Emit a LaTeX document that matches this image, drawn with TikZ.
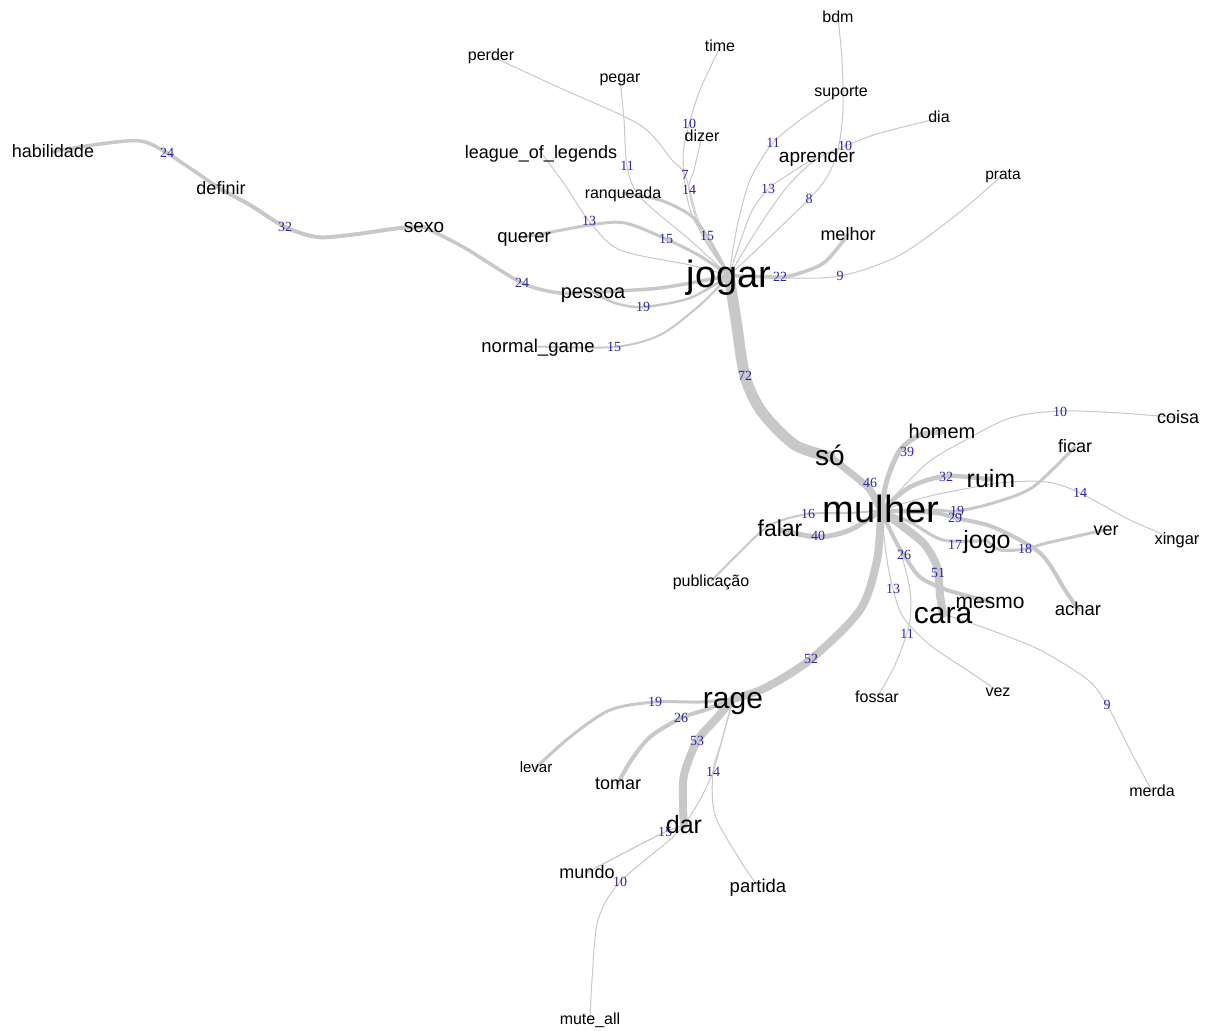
\documentclass[tikz,border=0pt]{standalone}
\usepackage{fontspec}
\setmainfont{Liberation Sans}
\newfontfamily\labfont{Liberation Serif}
\usetikzlibrary{backgrounds}
\definecolor{edgec}{RGB}{200,200,200}
\definecolor{labc}{RGB}{40,40,170}
\begin{document}
\begin{tikzpicture}[x=1pt,y=-1pt,
  wd/.code={\pgfmathsetmacro\wdh{0.6*#1}\pgfkeysalso{inner sep=0pt, text depth=0pt, text height/.expanded=\wdh pt, font=\fontsize{#1}{#1}\selectfont, text=black}},
  edg/.style={draw=edgec, line width=#1, line cap=round, line join=round},
  wl/.style={inner sep=0pt, text=labc, font=\labfont\fontsize{14}{14}\selectfont}]
\useasboundingbox (0,0) rectangle (1214,1030);
% words
\node[wd=18] (habilidade) at (53,151.6) {habilidade};
\node[wd=18] (definir) at (221,189.5) {definir};
\node[wd=19] (sexo) at (424,227) {sexo};
\node[wd=20] (pessoa) at (593,292) {pessoa};
\node[wd=18.5] (querer) at (524,237.4) {querer};
\node[wd=18.5] (normalgame) at (538,346.5) {normal\_game};
\node[wd=18] (league) at (541,152.6) {league\_of\_legends};
\node[wd=16] (ranqueada) at (623,193.2) {ranqueada};
\node[wd=16] (perder) at (491,56.2) {perder};
\node[wd=16] (pegar) at (620,78.2) {pegar};
\node[wd=16] (time) at (720,47.2) {time};
\node[wd=16] (dizer) at (702,136.2) {dizer};
\node[wd=16] (bdm) at (838,18.2) {bdm};
\node[wd=16] (suporte) at (841,92.2) {suporte};
\node[wd=16] (dia) at (939,118.2) {dia};
\node[wd=19] (aprender) at (817,156.3) {aprender};
\node[wd=15.5] (prata) at (1003,174.4) {prata};
\node[wd=18] (melhor) at (848,234.6) {melhor};
\node[wd=38] (jogar) at (729,275.6) {jogar};
\node[wd=28] (so) at (830,456.6) {só};
\node[wd=38] (mulher) at (881,510.6) {mulher};
\node[wd=20] (homem) at (942,432) {homem};
\node[wd=18] (coisa) at (1178,417.6) {coisa};
\node[wd=25] (ruim) at (991,479.5) {ruim};
\node[wd=18] (ficar) at (1075,446.6) {ficar};
\node[wd=16.5] (xingar) at (1177,540) {xingar};
\node[wd=18] (ver) at (1106,529.6) {ver};
\node[wd=25] (jogo) at (987,540.5) {jogo};
\node[wd=18.5] (achar) at (1078,609.5) {achar};
\node[wd=21] (mesmo) at (990,601.7) {mesmo};
\node[wd=30] (cara) at (943,614) {cara};
\node[wd=23] (falar) at (780,530) {falar};
\node[wd=16] (pub) at (711,581.2) {publicação};
\node[wd=16] (fossar) at (877,697.2) {fossar};
\node[wd=16] (vez) at (998,691.2) {vez};
\node[wd=16] (merda) at (1152,791.2) {merda};
\node[wd=30] (rage) at (733,699) {rage};
\node[wd=15] (levar) at (536,767.5) {levar};
\node[wd=18] (tomar) at (618,783.6) {tomar};
\node[wd=25] (dar) at (684,825.5) {dar};
\node[wd=18] (mundo) at (587,872.6) {mundo};
\node[wd=18.5] (partida) at (758,886.5) {partida};
\node[wd=16] (muteall) at (590,1019.2) {mute\_all};
% edges
\begin{scope}[on background layer]
\fill[white] (0,0) rectangle (1214,1030);
\draw[edg=3.5pt] plot[smooth] coordinates {(habilidade.center) (100,144) (140,141) (167,153) (definir.center)};
\draw[edg=4pt] plot[smooth] coordinates {(definir.center) (250,205) (285,227) (317,237) (350,235) (400,228) (sexo.center)};
\draw[edg=3.5pt] plot[smooth] coordinates {(sexo.center) (465,248) (522,283) (560,293) (pessoa.center)};
\draw[edg=3.5pt] plot[smooth] coordinates {(pessoa.center) (660,288) (jogar.center)};
\draw[edg=2.5pt] plot[smooth] coordinates {(pessoa.center) (615,303) (643,307) (690,298) (jogar.center)};
\draw[edg=2pt] plot[smooth] coordinates {(normalgame.center) (614,347) (660,335) (700,305) (jogar.center)};
\draw[edg=3pt] plot[smooth] coordinates {(querer.center) (590,225) (625,223) (666,239) (700,256) (jogar.center)};
\draw[edg=1pt] plot[smooth] coordinates {(league.center) (565,185) (589,221) (620,250) (690,265) (jogar.center)};
\draw[edg=3pt] plot[smooth] coordinates {(ranqueada.center) (660,200) (690,215) (707,236) (jogar.center)};
\draw[edg=1pt] plot[smooth] coordinates {(pegar.center) (624,120) (627,166) (640,197) (690,240) (jogar.center)};
\draw[edg=1pt] plot[smooth] coordinates {(perder.center) (560,88) (640,125) (672,160) (685,175) (700,225) (jogar.center)};
\draw[edg=1pt] plot[smooth] coordinates {(time.center) (700,90) (689,125) (683,160) (692,215) (jogar.center)};
\draw[edg=1pt] plot[smooth] coordinates {(dizer.center) (694,170) (689,190) (702,235) (jogar.center)};
\draw[edg=1pt] plot[smooth] coordinates {(suporte.center) (800,120) (772,144) (750,180) (737,227) (jogar.center)};
\draw[edg=1pt] plot[smooth] coordinates {(bdm.center) (842,60) (843,110) (838,150) (827,177) (809,199) (770,237) (jogar.center)};
\draw[edg=1pt] plot[smooth] coordinates {(dia.center) (880,133) (845,146) (815,160) (787,187) (760,225) (jogar.center)};
\draw[edg=1pt] plot[smooth] coordinates {(aprender.center) (780,180) (768,189) (750,215) (jogar.center)};
\draw[edg=1pt] plot[smooth] coordinates {(prata.center) (960,212) (900,255) (840,276) (780,278) (jogar.center)};
\draw[edg=3.5pt] plot[smooth] coordinates {(melhor.center) (825,262) (800,273) (780,277) (jogar.center)};
\draw[edg=11pt] plot[smooth] coordinates {(jogar.center) (736,320) (745,376) (762,412) (795,445) (so.center)};
\draw[edg=7pt] plot[smooth] coordinates {(so.center) (857,478) (870,490) (mulher.center)};
\draw[edg=5pt] plot[smooth] coordinates {(mulher.center) (887,480) (900,450) (920,435) (homem.center)};
\draw[edg=1pt] plot[smooth] coordinates {(mulher.center) (925,465) (960,443) (1010,418) (1060,411) (1120,413) (coisa.center)};
\draw[edg=4.5pt] plot[smooth] coordinates {(mulher.center) (910,487) (946,476) (ruim.center)};
\draw[edg=1pt] plot[smooth] coordinates {(mulher.center) (930,496) (1000,483) (1047,482) (1080,493) (1130,520) (xingar.center)};
\draw[edg=3pt] plot[smooth] coordinates {(mulher.center) (933,510) (957,511) (993,503) (1033,487) (ficar.center)};
\draw[edg=4pt] plot[smooth] coordinates {(mulher.center) (935,513) (955,518) (993,527) (1040,553) (1065,590) (achar.center)};
\draw[edg=3pt] plot[smooth] coordinates {(mulher.center) (910,522) (943,540) (jogo.center)};
\draw[edg=3pt] plot[smooth] coordinates {(jogo.center) (1000,550) (1025,549) (1047,543) (ver.center)};
\draw[edg=4pt] plot[smooth] coordinates {(mulher.center) (895,540) (904,555) (920,577) (947,590) (mesmo.center)};
\draw[edg=8pt] plot[smooth] coordinates {(mulher.center) (905,528) (925,545) (937,567) (940,595) (cara.center)};
\draw[edg=1pt] plot[smooth] coordinates {(mulher.center) (887,560) (893,589) (903,617) (930,645) (970,672) (vez.center)};
\draw[edg=1pt] plot[smooth] coordinates {(mulher.center) (898,545) (910,590) (909,625) (895,665) (fossar.center)};
\draw[edg=1pt] plot[smooth] coordinates {(cara.center) (985,628) (1040,650) (1088,680) (1107,705) (1130,750) (merda.center)};
\draw[edg=5pt] plot[smooth] coordinates {(mulher.center) (850,530) (818,537) (falar.center)};
\draw[edg=2pt] plot[smooth] coordinates {(mulher.center) (850,513) (808,514) (770,525) (740,552) (pub.center)};
\draw[edg=8pt] plot[smooth] coordinates {(mulher.center) (877,560) (860,610) (811,659) (765,688) (rage.center)};
\draw[edg=3pt] plot[smooth] coordinates {(rage.center) (700,702) (655,702) (610,710) (570,737) (levar.center)};
\draw[edg=4pt] plot[smooth] coordinates {(rage.center) (705,710) (681,718) (650,737) (630,762) (tomar.center)};
\draw[edg=8pt] plot[smooth] coordinates {(rage.center) (715,720) (697,741) (684,775) (683,805) (dar.center)};
\draw[edg=1pt] plot[smooth] coordinates {(rage.center) (722,740) (713,772) (715,815) (740,860) (partida.center)};
\draw[edg=1pt] plot[smooth] coordinates {(rage.center) (722,740) (713,772) (697,805) (675,835) (620,882) (598,920) (592,980) (muteall.center)};
\draw[edg=1.2pt] plot[smooth] coordinates {(dar.center) (665,832) (620,855) (mundo.center)};
\end{scope}
% edge weights
\node[wl] (l1) at (167,153) {24};
\node[wl] (l2) at (285,227) {32};
\node[wl] (l3) at (522,283) {24};
\node[wl] (l4) at (643,307) {19};
\node[wl] (l5) at (614,347) {15};
\node[wl] (l6) at (666,239) {15};
\node[wl] (l7) at (589,221) {13};
\node[wl] (l8) at (707,236) {15};
\node[wl] (l9) at (627,166) {11};
\node[wl] (l10) at (685,175) {7};
\node[wl] (l11) at (689,124) {10};
\node[wl] (l12) at (689,190) {14};
\node[wl] (l13) at (773,143) {11};
\node[wl] (l14) at (809,199) {8};
\node[wl] (l15) at (845,146) {10};
\node[wl] (l16) at (768,189) {13};
\node[wl] (l17) at (840,276) {9};
\node[wl] (l18) at (780,277) {22};
\node[wl] (l19) at (745,376) {72};
\node[wl] (l20) at (870,483) {46};
\node[wl] (l21) at (907,452) {39};
\node[wl] (l22) at (1060,412) {10};
\node[wl] (l23) at (946,477) {32};
\node[wl] (l24) at (1080,493) {14};
\node[wl] (l25) at (957,511) {19};
\node[wl] (l26) at (955,518) {29};
\node[wl] (l27) at (955,545) {17};
\node[wl] (l28) at (1025,549) {18};
\node[wl] (l29) at (904,555) {26};
\node[wl] (l30) at (938,573) {51};
\node[wl] (l31) at (893,589) {13};
\node[wl] (l32) at (907,634) {11};
\node[wl] (l33) at (1107,705) {9};
\node[wl] (l34) at (818,536) {40};
\node[wl] (l35) at (808,514) {16};
\node[wl] (l36) at (811,659) {52};
\node[wl] (l37) at (655,702) {19};
\node[wl] (l38) at (681,718) {26};
\node[wl] (l39) at (697,741) {53};
\node[wl] (l40) at (713,772) {14};
\node[wl] (l41) at (620,882) {10};
\node[wl] (l42) at (665,832) {15};
\end{tikzpicture}
\end{document}
